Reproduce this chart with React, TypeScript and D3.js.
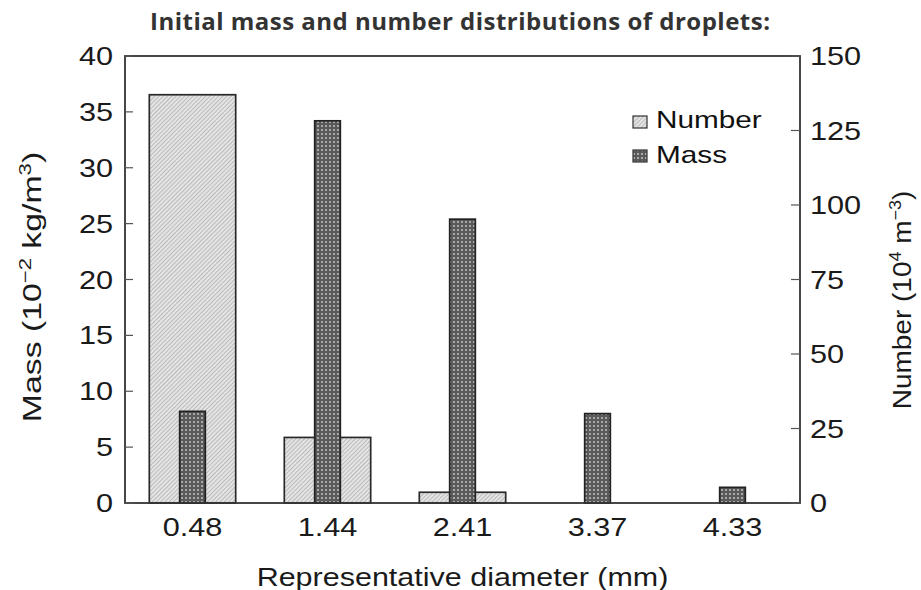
import React from "react";
import * as d3 from "d3";

const categories = ["0.48", "1.44", "2.41", "3.37", "4.33"];
const numberValues = [137, 22, 3.6, 0, 0];
const massValues = [8.2, 34.2, 25.4, 8.0, 1.4];
const massTicks = [0, 5, 10, 15, 20, 25, 30, 35, 40];
const numberTicks = [0, 25, 50, 75, 100, 125, 150];

const W = 921;
const H = 590;
const M = { left: 125, right: 800, top: 56, bottom: 503 };
const FONT = "'Liberation Sans', Arial, sans-serif";

type TP = {
  x: number;
  y: number;
  anchor?: string;
  size?: number;
  sx?: number;
  rot?: number;
  fill?: string;
  children?: React.ReactNode;
};

function T({ x, y, anchor = "start", size = 25, sx = 1.18, rot = 0, fill = "#1a1a1a", children }: TP) {
  return (
    <text
      transform={`translate(${x},${y}) rotate(${rot}) scale(${sx},1)`}
      textAnchor={anchor}
      fontFamily={FONT}
      fontSize={size}
      fill={fill}
    >
      {children}
    </text>
  );
}

export default function App() {
  const x = d3.scaleBand<string>().domain(categories).range([M.left, M.right]).padding(0);
  const yMass = d3.scaleLinear().domain([0, 40]).range([M.bottom, M.top]);
  const yNum = d3.scaleLinear().domain([0, 150]).range([M.bottom, M.top]);
  const bw = x.bandwidth();
  const numW = bw * 0.64;
  const massW = bw * 0.19;

  return (
    <svg width={W} height={H} style={{ position: "absolute", left: 0, top: 0, background: "#fff" }}>
      <defs>
        <pattern id="hatch" patternUnits="userSpaceOnUse" width="3" height="3" patternTransform="rotate(45)">
          <rect width="3" height="3" fill="#e4e4e4" />
          <line x1="0" y1="0" x2="0" y2="3" stroke="#9a9a9a" strokeWidth="1.1" />
        </pattern>
        <pattern id="dots" patternUnits="userSpaceOnUse" width="4" height="4">
          <rect width="4" height="4" fill="#5a5a5a" />
          <rect x="1" y="1" width="2" height="2" fill="#a8a8a8" />
        </pattern>
      </defs>
      <text x={460} y={30} textAnchor="middle" fontFamily="'Open Sans', sans-serif" fontWeight="bold" fontSize={24} fill="#333" textLength={620} lengthAdjust="spacing">
        Initial mass and number distributions of droplets:
      </text>

      {/* number bars */}
      {categories.map((c, i) =>
        numberValues[i] > 0 ? (
          <rect
            key={"n" + c}
            x={(x(c) as number) + (bw - numW) / 2}
            y={yNum(numberValues[i])}
            width={numW}
            height={M.bottom - yNum(numberValues[i])}
            fill="url(#hatch)"
            stroke="#2a2a2a"
            strokeWidth={1.7}
          />
        ) : null
      )}
      {/* mass bars */}
      {categories.map((c, i) => (
        <rect
          key={"m" + c}
          x={(x(c) as number) + (bw - massW) / 2}
          y={yMass(massValues[i])}
          width={massW}
          height={M.bottom - yMass(massValues[i])}
          fill="url(#dots)"
          stroke="#222"
          strokeWidth={1.7}
        />
      ))}

      {/* frame */}
      <rect x={M.left} y={M.top} width={M.right - M.left} height={M.bottom - M.top} fill="none" stroke="#333" strokeWidth={1.8} />

      {/* left ticks */}
      {massTicks.map((t) => (
        <g key={"lt" + t}>
          <line x1={M.left} x2={M.left + 8} y1={yMass(t)} y2={yMass(t)} stroke="#555" strokeWidth={1.2} />
          <T x={113} y={yMass(t) + 9} anchor="end" size={26}>{t}</T>
        </g>
      ))}
      {/* right ticks */}
      {numberTicks.map((t) => (
        <g key={"rt" + t}>
          <line x1={M.right - 9} x2={M.right} y1={yNum(t)} y2={yNum(t)} stroke="#555" strokeWidth={1.2} />
          <T x={810} y={yNum(t) + 9} anchor="start" size={26}>{t}</T>
        </g>
      ))}
      {/* x labels */}
      {categories.map((c) => (
        <T key={"xl" + c} x={(x(c) as number) + bw / 2} y={536} anchor="middle" size={26}>{c}</T>
      ))}
      <T x={(M.left + M.right) / 2} y={586} anchor="middle" size={25} sx={1.22}>
        Representative diameter (mm)
      </T>

      {/* left axis title */}
      <T x={41} y={287} anchor="middle" size={26} sx={1.3} rot={-90}>
        Mass (10<tspan dy={-10} fontSize={17}>−2</tspan>
        <tspan dy={10}> kg/m</tspan>
        <tspan dy={-10} fontSize={17}>3</tspan>
        <tspan dy={10}>)</tspan>
      </T>
      {/* right axis title */}
      <T x={911} y={300} anchor="middle" size={25} sx={1.12} rot={-90}>
        Number (10<tspan dy={-10} fontSize={16}>4</tspan>
        <tspan dy={10}> m</tspan>
        <tspan dy={-10} fontSize={16}>−3</tspan>
        <tspan dy={10}>)</tspan>
      </T>

      {/* legend */}
      <rect x={633} y={116} width={14} height={12} fill="url(#hatch)" stroke="#333" strokeWidth={1.2} />
      <T x={656} y={128} size={24} sx={1.24} fill="#111">Number</T>
      <rect x={633} y={150} width={14} height={12} fill="url(#dots)" stroke="#333" strokeWidth={1.2} />
      <T x={656} y={163} size={24} sx={1.24} fill="#111">Mass</T>
    </svg>
  );
}
